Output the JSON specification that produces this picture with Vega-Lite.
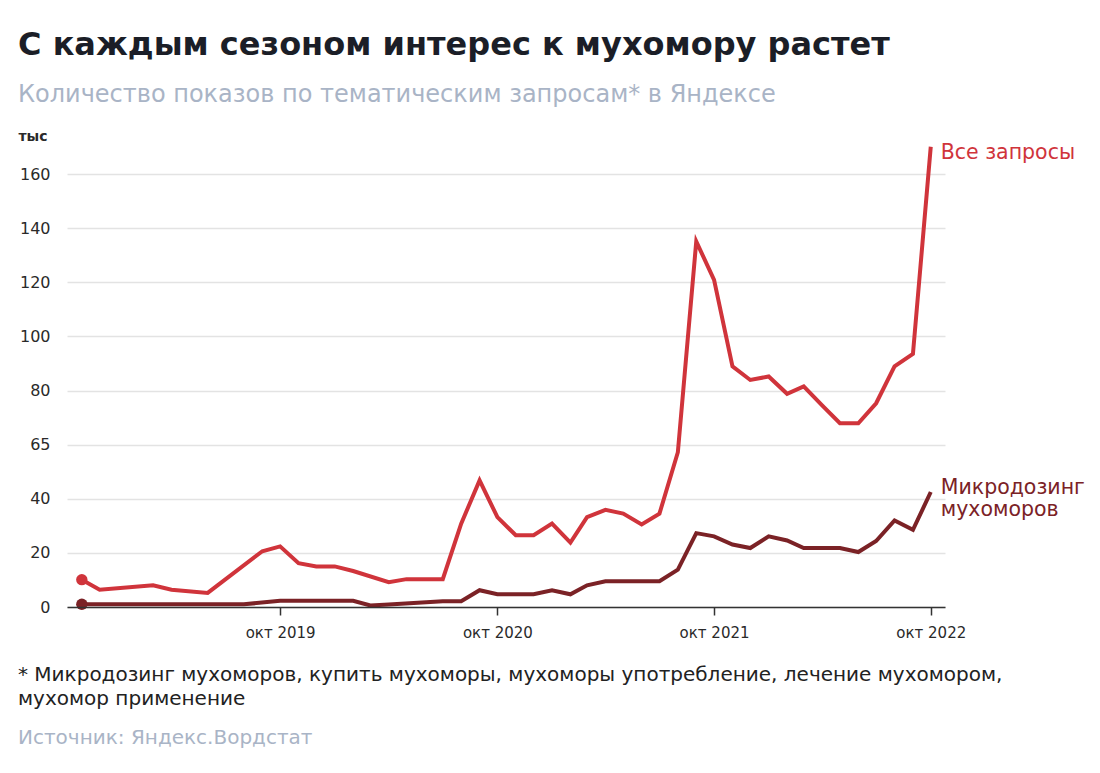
{
  "$schema": "https://vega.github.io/schema/vega-lite/v6.json",
  "background": "white",
  "padding": {"left": 18, "top": 29, "right": 10, "bottom": 10},
  "autosize": {"type": "pad"},
  "title": {
    "text": "С каждым сезоном интерес к мухомору растет",
    "subtitle": "Количество показов по тематическим запросам* в Яндексе",
    "anchor": "start",
    "frame": "bounds",
    "font": "DejaVu Sans",
    "fontSize": 32,
    "fontWeight": 700,
    "color": "#1b1e27",
    "subtitleFont": "DejaVu Sans",
    "subtitleFontSize": 24,
    "subtitleFontWeight": 400,
    "subtitleColor": "#a9b4c6",
    "subtitlePadding": 21,
    "offset": 21
  },
  "datasets": {
    "lines": [
      {"series": "Все запросы", "date": "2018-11-01", "value": 10.1},
      {"series": "Все запросы", "date": "2018-12-01", "value": 6.4},
      {"series": "Все запросы", "date": "2019-03-01", "value": 8.0},
      {"series": "Все запросы", "date": "2019-04-01", "value": 6.4},
      {"series": "Все запросы", "date": "2019-06-01", "value": 5.2},
      {"series": "Все запросы", "date": "2019-09-01", "value": 20.6},
      {"series": "Все запросы", "date": "2019-10-01", "value": 22.4},
      {"series": "Все запросы", "date": "2019-11-01", "value": 16.2},
      {"series": "Все запросы", "date": "2019-12-01", "value": 15.0},
      {"series": "Все запросы", "date": "2020-01-01", "value": 15.0},
      {"series": "Все запросы", "date": "2020-02-01", "value": 13.3},
      {"series": "Все запросы", "date": "2020-04-01", "value": 9.2},
      {"series": "Все запросы", "date": "2020-05-01", "value": 10.3},
      {"series": "Все запросы", "date": "2020-07-01", "value": 10.3},
      {"series": "Все запросы", "date": "2020-08-01", "value": 30.8},
      {"series": "Все запросы", "date": "2020-09-01", "value": 46.8},
      {"series": "Все запросы", "date": "2020-10-01", "value": 33.2},
      {"series": "Все запросы", "date": "2020-11-01", "value": 26.5},
      {"series": "Все запросы", "date": "2020-12-01", "value": 26.5},
      {"series": "Все запросы", "date": "2021-01-01", "value": 30.8},
      {"series": "Все запросы", "date": "2021-02-01", "value": 23.8},
      {"series": "Все запросы", "date": "2021-03-01", "value": 33.2},
      {"series": "Все запросы", "date": "2021-04-01", "value": 35.9},
      {"series": "Все запросы", "date": "2021-05-01", "value": 34.5},
      {"series": "Все запросы", "date": "2021-06-01", "value": 30.5},
      {"series": "Все запросы", "date": "2021-07-01", "value": 34.5},
      {"series": "Все запросы", "date": "2021-08-01", "value": 57.2},
      {"series": "Все запросы", "date": "2021-09-01", "value": 135.1},
      {"series": "Все запросы", "date": "2021-10-01", "value": 120.9},
      {"series": "Все запросы", "date": "2021-11-01", "value": 88.9},
      {"series": "Все запросы", "date": "2021-12-01", "value": 83.9},
      {"series": "Все запросы", "date": "2022-01-01", "value": 85.2},
      {"series": "Все запросы", "date": "2022-02-01", "value": 78.8},
      {"series": "Все запросы", "date": "2022-03-01", "value": 81.5},
      {"series": "Все запросы", "date": "2022-04-01", "value": 74.5},
      {"series": "Все запросы", "date": "2022-05-01", "value": 67.9},
      {"series": "Все запросы", "date": "2022-06-01", "value": 67.9},
      {"series": "Все запросы", "date": "2022-07-01", "value": 75.3},
      {"series": "Все запросы", "date": "2022-08-01", "value": 88.9},
      {"series": "Все запросы", "date": "2022-09-01", "value": 93.5},
      {"series": "Все запросы", "date": "2022-10-01", "value": 170.1},
      {"series": "Микродозинг мухоморов", "date": "2018-11-01", "value": 1.0},
      {"series": "Микродозинг мухоморов", "date": "2019-08-01", "value": 1.0},
      {"series": "Микродозинг мухоморов", "date": "2019-10-01", "value": 2.3},
      {"series": "Микродозинг мухоморов", "date": "2020-02-01", "value": 2.3},
      {"series": "Микродозинг мухоморов", "date": "2020-03-01", "value": 0.6},
      {"series": "Микродозинг мухоморов", "date": "2020-04-01", "value": 0.9},
      {"series": "Микродозинг мухоморов", "date": "2020-07-01", "value": 2.1},
      {"series": "Микродозинг мухоморов", "date": "2020-08-01", "value": 2.1},
      {"series": "Микродозинг мухоморов", "date": "2020-09-01", "value": 6.2},
      {"series": "Микродозинг мухоморов", "date": "2020-10-01", "value": 4.7},
      {"series": "Микродозинг мухоморов", "date": "2020-12-01", "value": 4.7},
      {"series": "Микродозинг мухоморов", "date": "2021-01-01", "value": 6.2},
      {"series": "Микродозинг мухоморов", "date": "2021-02-01", "value": 4.7},
      {"series": "Микродозинг мухоморов", "date": "2021-03-01", "value": 8.0},
      {"series": "Микродозинг мухоморов", "date": "2021-04-01", "value": 9.5},
      {"series": "Микродозинг мухоморов", "date": "2021-07-01", "value": 9.5},
      {"series": "Микродозинг мухоморов", "date": "2021-08-01", "value": 13.8},
      {"series": "Микродозинг мухоморов", "date": "2021-09-01", "value": 27.3},
      {"series": "Микродозинг мухоморов", "date": "2021-10-01", "value": 26.1},
      {"series": "Микродозинг мухоморов", "date": "2021-11-01", "value": 23.1},
      {"series": "Микродозинг мухоморов", "date": "2021-12-01", "value": 21.8},
      {"series": "Микродозинг мухоморов", "date": "2022-01-01", "value": 26.1},
      {"series": "Микродозинг мухоморов", "date": "2022-02-01", "value": 24.6},
      {"series": "Микродозинг мухоморов", "date": "2022-03-01", "value": 21.8},
      {"series": "Микродозинг мухоморов", "date": "2022-05-01", "value": 21.8},
      {"series": "Микродозинг мухоморов", "date": "2022-06-01", "value": 20.3},
      {"series": "Микродозинг мухоморов", "date": "2022-07-01", "value": 24.4},
      {"series": "Микродозинг мухоморов", "date": "2022-08-01", "value": 32.0},
      {"series": "Микродозинг мухоморов", "date": "2022-09-01", "value": 28.5},
      {"series": "Микродозинг мухоморов", "date": "2022-10-01", "value": 42.5}
    ]
  },
  "spacing": 25,
  "vconcat": [
    {
      "width": 878,
      "height": 460,
      "data": {"name": "lines"},
      "encoding": {
        "x": {
          "field": "date",
          "type": "temporal",
          "scale": {
            "type": "utc",
            "domain": [
              {"year": 2018, "month": 10, "date": 7, "utc": true},
              {"year": 2022, "month": 10, "date": 25, "utc": true}
            ]
          },
          "axis": {
            "title": null,
            "grid": false,
            "values": [
              {"year": 2019, "month": 10, "date": 1, "utc": true},
              {"year": 2020, "month": 10, "date": 1, "utc": true},
              {"year": 2021, "month": 10, "date": 1, "utc": true},
              {"year": 2022, "month": 10, "date": 1, "utc": true}
            ],
            "labelExpr": "'окт ' + utcFormat(datum.value, '%Y')",
            "labelFont": "DejaVu Sans",
            "labelFontSize": 15,
            "labelColor": "#2a2a2a",
            "labelPadding": 10,
            "tickSize": 8,
            "tickColor": "#333333",
            "tickWidth": 1.5,
            "domainColor": "#333333",
            "domainWidth": 1.5,
            "zindex": 1
          }
        },
        "y": {
          "field": "value",
          "type": "quantitative",
          "scale": {"domain": [0, 170], "nice": false},
          "axis": {
            "values": [0, 20, 40, 60, 80, 100, 120, 140, 160],
            "labelExpr": "datum.value == 60 ? '65' : datum.label",
            "domain": false,
            "ticks": false,
            "grid": true,
            "gridColor": "#e3e3e3",
            "gridWidth": 1.5,
            "labelFont": "DejaVu Sans",
            "labelFontSize": 16,
            "labelColor": "#2a2a2a",
            "labelPadding": 17,
            "title": "тыс",
            "titleFont": "DejaVu Sans",
            "titleFontSize": 14,
            "titleFontWeight": 600,
            "titleColor": "#2a2a2a",
            "titleAngle": 0,
            "titleAlign": "left",
            "titleBaseline": "bottom",
            "titleX": -49,
            "titleY": -4
          }
        },
        "color": {
          "field": "series",
          "type": "nominal",
          "scale": {
            "domain": ["Все запросы", "Микродозинг мухоморов"],
            "range": ["#d0343b", "#7b2226"]
          },
          "legend": null
        }
      },
      "layer": [
        {"mark": {"type": "line", "strokeWidth": 4, "strokeJoin": "miter"}},
        {
          "transform": [{"filter": "utcFormat(datum.date, '%Y-%m') == '2018-11'"}],
          "mark": {"type": "circle", "size": 130, "opacity": 1}
        },
        {
          "transform": [{"filter": "utcFormat(datum.date, '%Y-%m') == '2022-10' && datum.series == 'Все запросы'"}],
          "mark": {"type": "text", "align": "left", "baseline": "top", "dx": 10, "dy": -4, "font": "DejaVu Sans", "fontSize": 20.5},
          "encoding": {"text": {"field": "series"}}
        },
        {
          "transform": [{"filter": "utcFormat(datum.date, '%Y-%m') == '2022-10' && datum.series == 'Микродозинг мухоморов'"}],
          "mark": {"type": "text", "align": "left", "baseline": "top", "dx": 10, "dy": -14, "font": "DejaVu Sans", "fontSize": 20.5, "lineBreak": " ", "lineHeight": 22},
          "encoding": {"text": {"field": "series"}}
        }
      ]
    },
    {
      "width": 878,
      "height": 4,
      "data": {"values": []},
      "mark": {"type": "rule"},
      "encoding": {},
      "title": {
        "text": ["* Микродозинг мухоморов, купить мухоморы, мухоморы употребление, лечение мухомором,", "мухомор применение"],
        "subtitle": "Источник: Яндекс.Вордстат",
        "anchor": "start",
        "frame": "group",
        "dx": -49,
        "font": "DejaVu Sans",
        "fontSize": 20,
        "fontWeight": 400,
        "color": "#222222",
        "lineHeight": 24,
        "subtitleFont": "DejaVu Sans",
        "subtitleFontSize": 20,
        "subtitleColor": "#a9b4c6",
        "subtitlePadding": 19,
        "offset": 0
      }
    }
  ],
  "config": {"view": {"stroke": null}, "font": "DejaVu Sans"}
}
